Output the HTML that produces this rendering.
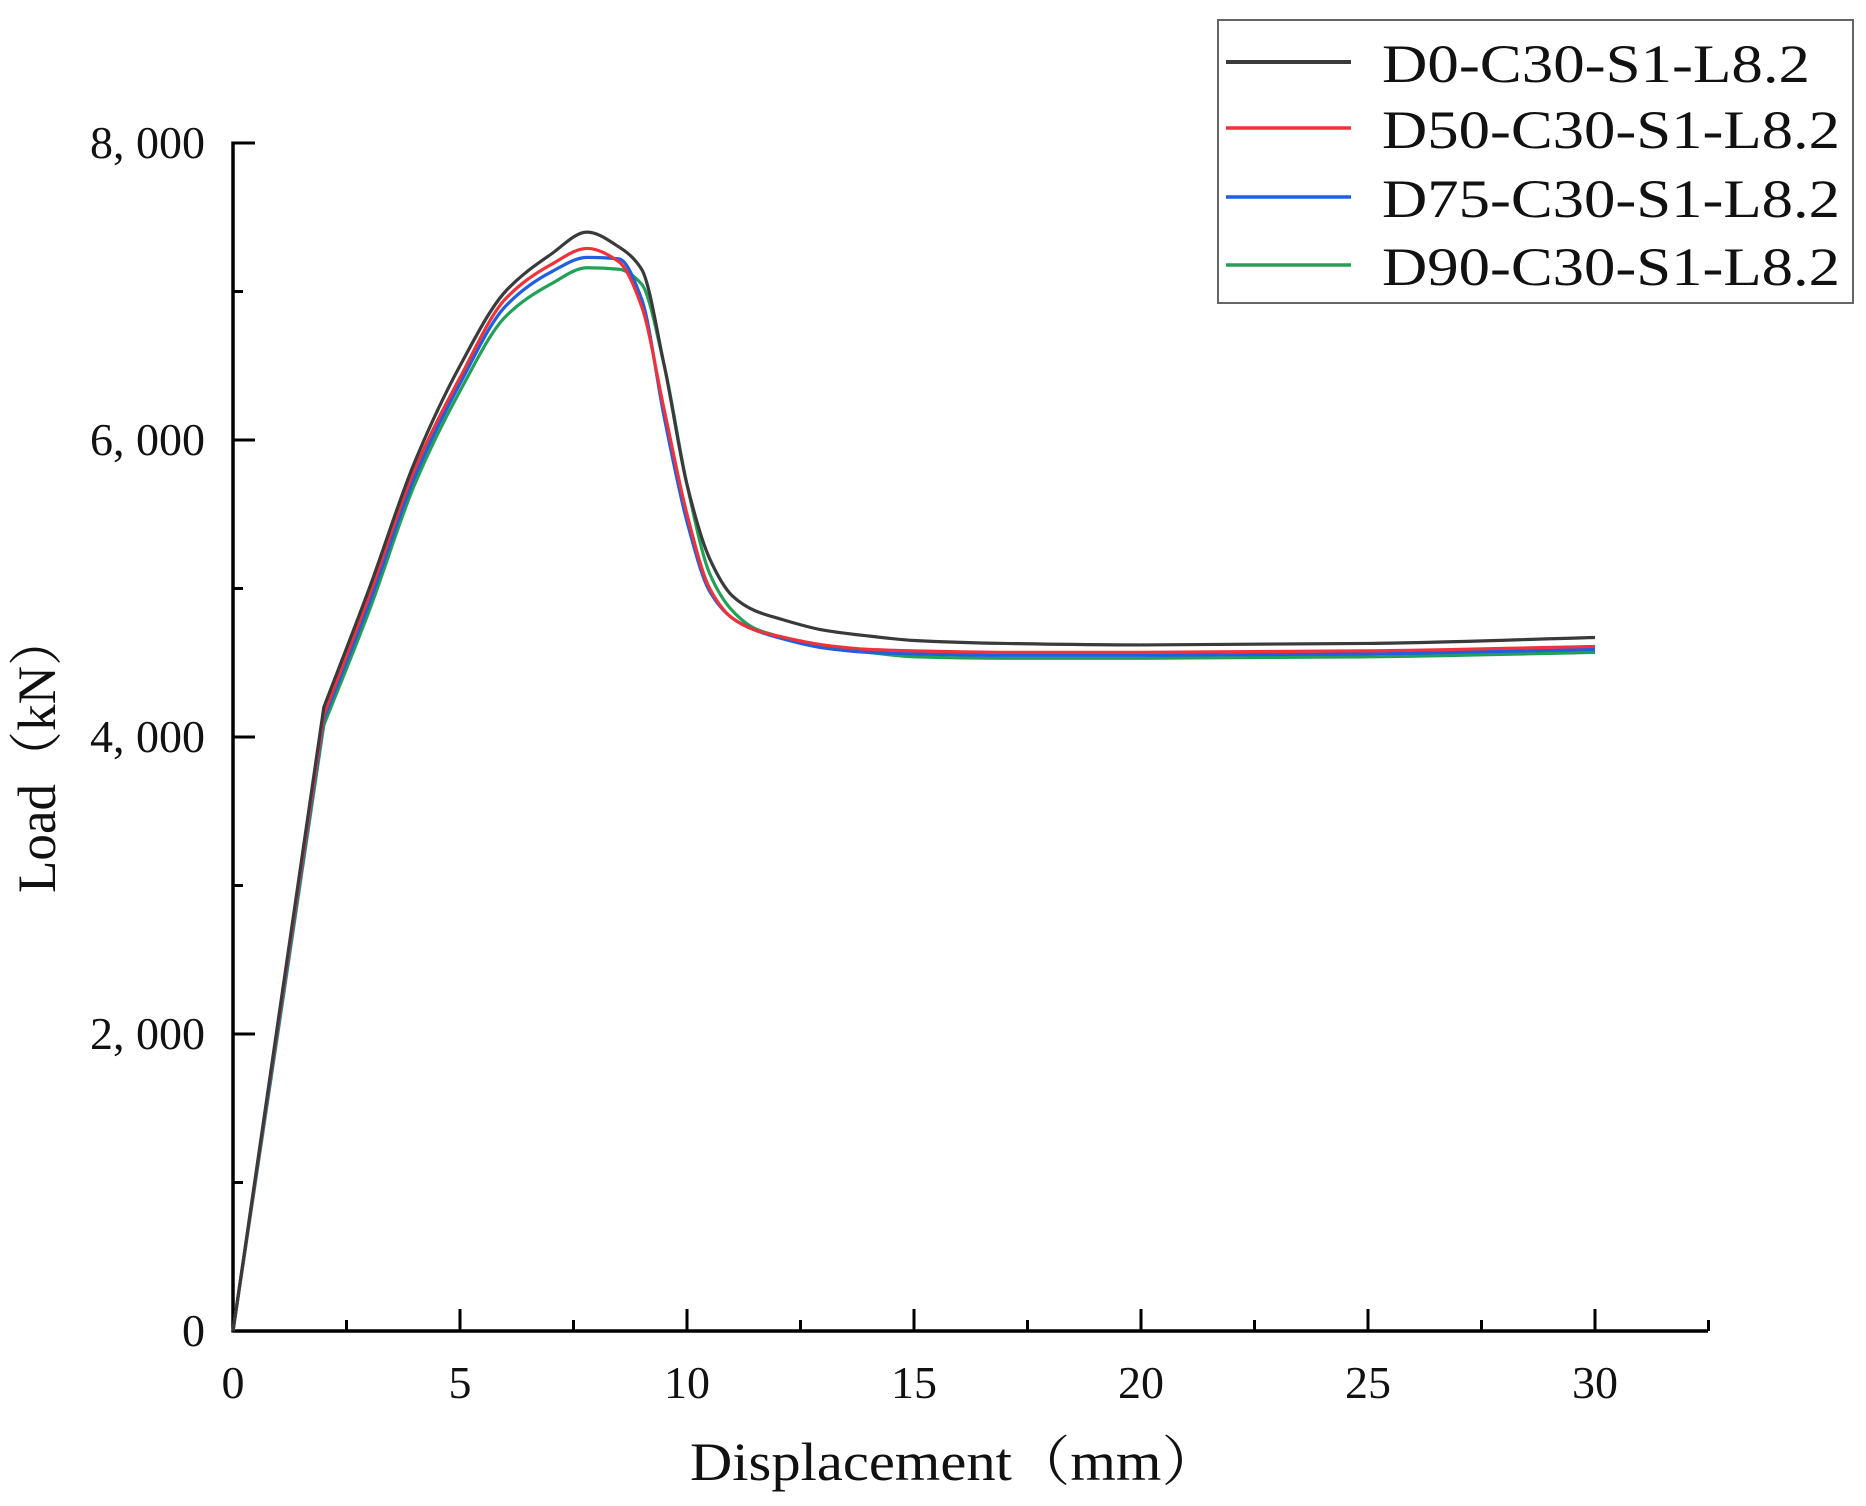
<!DOCTYPE html>
<html><head><meta charset="utf-8">
<style>
html,body{margin:0;padding:0;background:#fff;}
svg{display:block;}
text{font-family:"Liberation Serif","Noto Serif CJK SC",serif;fill:#111;}
</style></head>
<body>
<svg id="chart" width="1866" height="1506" viewBox="0 0 1866 1506" xmlns="http://www.w3.org/2000/svg">
<g id="axes"></g>
<g id="series"></g>
<text x="955" y="1480" font-size="54" text-anchor="middle" textLength="530" lengthAdjust="spacingAndGlyphs">Displacement（mm）</text>
<text transform="translate(55,753) rotate(-90)" font-size="54" text-anchor="middle" textLength="280" lengthAdjust="spacingAndGlyphs">Load（kN）</text>
<g>
<rect x="1218" y="20" width="635" height="283" fill="#fff" stroke="#666" stroke-width="2"/>
<g id="legend-entries"></g>
</g>
</svg>
<script>
const xValues = [0,1,2,3,4,5,6,7,7.8,8.5,9,9.5,10,10.5,11,11.5,12,13,14,15,17,20,25,30];
const seriesNames = ["D0-C30-S1-L8.2","D50-C30-S1-L8.2","D75-C30-S1-L8.2","D90-C30-S1-L8.2"];
const seriesD0 = [0,2100,4200,5000,5850,6500,7000,7250,7400,7300,7150,6500,5700,5200,4950,4850,4800,4720,4680,4650,4630,4620,4630,4670];
const seriesD50 = [0,2080,4150,4950,5800,6420,6950,7180,7290,7200,6900,6200,5500,5000,4800,4720,4680,4620,4590,4580,4570,4570,4580,4610];
const seriesD75 = [0,2060,4120,4900,5750,6380,6900,7130,7230,7220,6950,6150,5450,4980,4800,4720,4670,4600,4570,4560,4550,4550,4560,4590];
const seriesD90 = [0,2030,4080,4850,5700,6330,6830,7050,7160,7150,7050,6500,5700,5100,4850,4730,4680,4610,4570,4540,4530,4530,4540,4570];
const xTicks = [0,5,10,15,20,25,30];
const xTickLabels = ["0","5","10","15","20","25","30"];
const yTicks = [0,2000,4000,6000,8000];
const yTickLabels = ["0","2, 000","4, 000","6, 000","8, 000"];

const colors = ["#3a3a3a","#f0323a","#1f5fe0","#22a055"];
const NS = "http://www.w3.org/2000/svg";
const X0=233, XPX=45.4, Y0=1331, YPX=297/2000;
function sx(v){return X0+v*XPX;}
function sy(v){return Y0-v*YPX;}
function mk(tag,attrs,parent){const e=document.createElementNS(NS,tag);for(const k in attrs)e.setAttribute(k,attrs[k]);parent.appendChild(e);return e;}

const axes=document.getElementById('axes');
let l=mk('line',{x1:X0,y1:Y0,x2:1708,y2:Y0,stroke:'#000','stroke-width':3.5},axes);


l=mk('line',{x1:X0,y1:Y0+1.5,x2:X0,y2:sy(8000)-1.5,stroke:'#000','stroke-width':3.5},axes);


for(let v=0;v<=32.5;v+=2.5){
  const major=(v%5===0);
  const t=mk('line',{x1:sx(v),y1:Y0,x2:sx(v),y2:Y0-(major?22:11),stroke:'#000','stroke-width':3},axes);
  
  
}
xTicks.forEach((v,i)=>{
  const t=mk('text',{x:sx(v),y:1398,'font-size':46,'text-anchor':'middle'},axes);
  t.textContent=xTickLabels[i];
  
  
});
for(let v=0;v<=8000;v+=1000){
  const major=(v%2000===0);
  const t=mk('line',{x1:X0,y1:sy(v),x2:X0+(major?22:10),y2:sy(v),stroke:'#000','stroke-width':3},axes);
  
  
}
yTicks.forEach((v,i)=>{
  const t=mk('text',{x:205,y:sy(v)+15,'font-size':46,'text-anchor':'end'},axes);
  t.textContent=yTickLabels[i];
  
  
});

// monotone cubic (Fritsch-Carlson), linear up to the kink at index 2
function pathFor(ys){
  const xs=xValues, n=xs.length, k0=2;
  let d='M'+sx(xs[0])+','+sy(ys[0]);
  for(let i=1;i<=k0;i++) d+=' L'+sx(xs[i])+','+sy(ys[i]);
  const del=[]; for(let i=0;i<n-1;i++) del.push((ys[i+1]-ys[i])/(xs[i+1]-xs[i]));
  const m=new Array(n);
  m[k0]=del[k0];
  for(let i=k0+1;i<n-1;i++){
    if(del[i-1]*del[i]<=0) m[i]=0;
    else { const w1=2*(xs[i+1]-xs[i])+(xs[i]-xs[i-1]), w2=(xs[i+1]-xs[i])+2*(xs[i]-xs[i-1]);
      m[i]=(w1+w2)/(w1/del[i-1]+w2/del[i]); }
  }
  m[n-1]=del[n-2];
  for(let i=k0;i<n-1;i++){
    const h=xs[i+1]-xs[i];
    const c1x=xs[i]+h/3, c1y=ys[i]+m[i]*h/3, c2x=xs[i+1]-h/3, c2y=ys[i+1]-m[i+1]*h/3;
    d+=' C'+sx(c1x)+','+sy(c1y)+' '+sx(c2x)+','+sy(c2y)+' '+sx(xs[i+1])+','+sy(ys[i+1]);
  }
  return d;
}
const allSeries=[seriesD90,seriesD75,seriesD50,seriesD0];
const order=[3,2,1,0];
const sg=document.getElementById('series');
allSeries.forEach((ys,k)=>{
  const idx=order[k];
  const p=mk('path',{d:pathFor(ys),fill:'none',stroke:colors[idx],'stroke-width':3.2,'stroke-linejoin':'round'},sg);
  
  
});
const lg=document.getElementById('legend-entries');
const baselines=[82,148,217,285];
seriesNames.forEach((n,i)=>{
  const g=mk('g',{},lg);
  
  
  const ln=mk('line',{x1:1226,y1:baselines[i]-20,x2:1351,y2:baselines[i]-20,stroke:colors[i],'stroke-width':i===0?4:3.5},g);
  
  
  const t=mk('text',{x:1382,y:baselines[i],'font-size':54,textLength:i===0?428:458,lengthAdjust:'spacingAndGlyphs'},g);
  t.textContent=n;
  
  
});
</script>
</body></html>
